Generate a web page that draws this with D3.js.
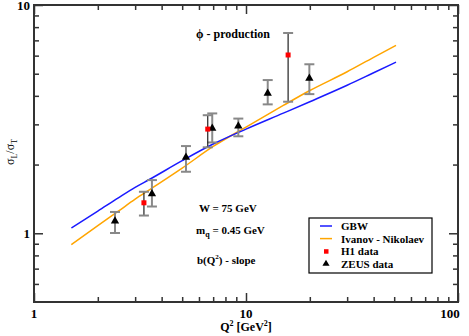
<!DOCTYPE html>
<meta charset="utf-8">
<head>
  <style>
    body { margin: 0; background: #fff; }
    svg text { font-family: "Liberation Serif", "DejaVu Serif", serif; font-weight: bold; fill: #000; }
    .axis path { display: none; }
    .axis line { stroke: #333; stroke-width: 1.5; }
  </style>
</head>
<body>
  <script src="https://d3js.org/d3.v7.min.js"></script>
  <script>
    // model curves
    var gbwQ2 = [1.5, 2, 2.5, 3, 3.5, 5, 7, 10, 15, 20, 30, 40, 51];
    var gbwR = [1.055, 1.25, 1.43, 1.59, 1.72, 2.08, 2.46, 2.86, 3.36, 3.77, 4.45, 5.05, 5.62];
    var inQ2 = [1.5, 2, 2.5, 3, 3.5, 5, 7, 10, 15, 20, 30, 40, 51];
    var inR = [0.892, 1.08, 1.25, 1.41, 1.55, 1.93, 2.40, 2.92, 3.63, 4.22, 5.1, 5.9, 6.65];

    // data points
    var h1Q2 = [3.3, 6.6, 15.8];
    var h1R = [1.36, 2.86, 6.04];
    var h1Lo = [1.196, 2.38, 3.77];
    var h1Hi = [1.52, 3.29, 7.54];

    var zeusQ2 = [2.41, 3.6, 5.21, 6.93, 9.2, 12.66, 19.9];
    var zeusR = [1.13, 1.49, 2.15, 2.88, 2.95, 4.10, 4.77];
    var zeusLo = [1.003, 1.31, 1.86, 2.50, 2.66, 3.67, 4.07];
    var zeusHi = [1.24, 1.71, 2.41, 3.35, 3.18, 4.69, 5.50];

    var xMajor = [1, 10, 100];
    var xMinor = [2, 3, 4, 5, 6, 7, 8, 9, 20, 30, 40, 50, 60, 70, 80, 90];
    var yMajor = [1, 10];
    var yMinor = [0.6, 0.7, 0.8, 0.9, 2, 3, 4, 5, 6, 7, 8, 9];

    var W = 469, H = 336;
    var pLeft = 34, pRight = 458, pTop = 5, pBottom = 302;

    var svg = d3.select("body").append("svg")
      .attr("width", W)
      .attr("height", H);

    var x = d3.scaleLog().domain([1, 100]).range([pLeft, pRight]);
    var y = d3.scaleLog().domain([0.5, 10]).range([pBottom, pTop]);

    // ticks, all pointing inward
    function ticks(axisFn, pos, vals, size) {
      svg.append("g")
        .attr("class", "axis")
        .attr("transform", pos)
        .call(axisFn.tickValues(vals).tickSize(size).tickFormat(""));
    }
    ticks(d3.axisBottom(x), "translate(0," + pBottom + ")", xMajor, -9);
    ticks(d3.axisBottom(x), "translate(0," + pBottom + ")", xMinor, -5);
    ticks(d3.axisTop(x), "translate(0," + pTop + ")", xMajor, -9);
    ticks(d3.axisTop(x), "translate(0," + pTop + ")", xMinor, -5);
    ticks(d3.axisLeft(y), "translate(" + pLeft + ",0)", yMajor, -9);
    ticks(d3.axisLeft(y), "translate(" + pLeft + ",0)", yMinor, -5);
    ticks(d3.axisRight(y), "translate(" + pRight + ",0)", yMajor, -9);
    ticks(d3.axisRight(y), "translate(" + pRight + ",0)", yMinor, -5);

    svg.append("rect")
      .attr("x", pLeft).attr("y", pTop)
      .attr("width", pRight - pLeft).attr("height", pBottom - pTop)
      .attr("fill", "none")
      .attr("stroke", "#333")
      .attr("stroke-width", 2);

    // tick labels
    svg.selectAll(".xlab")
      .data(xMajor)
      .enter().append("text")
      .attr("x", function (d) { return d == 100 ? x(d) - 8 : x(d); })
      .attr("y", 318)
      .attr("text-anchor", "middle")
      .style("font-size", "13px")
      .text(function (d) { return d; });

    svg.selectAll(".ylab")
      .data(yMajor)
      .enter().append("text")
      .attr("x", 30)
      .attr("y", function (d) { return y(d) + 4.5; })
      .attr("text-anchor", "end")
      .style("font-size", "13px")
      .text(function (d) { return d; });

    // axis titles
    var xt = svg.append("text")
      .attr("x", 246).attr("y", 331)
      .attr("text-anchor", "middle")
      .style("font-size", "12px");
    xt.append("tspan").text("Q");
    xt.append("tspan").attr("dy", -5).style("font-size", "8px").text("2");
    xt.append("tspan").attr("dy", 5).text(" [GeV");
    xt.append("tspan").attr("dy", -5).style("font-size", "8px").text("2");
    xt.append("tspan").attr("dy", 5).text("]");

    var yt = svg.append("text")
      .attr("transform", "translate(14,152) rotate(-90)")
      .attr("text-anchor", "middle")
      .style("font-size", "12px")
      .style("font-weight", "normal");
    yt.append("tspan").text("σ");
    yt.append("tspan").attr("dy", 3).style("font-size", "8px").text("L");
    yt.append("tspan").attr("dy", -3).text("/σ");
    yt.append("tspan").attr("dy", 3).style("font-size", "8px").text("T");

    // curves
    var line = d3.line()
      .x(function (d) { return x(d[0]); })
      .y(function (d) { return y(d[1]); })
      .curve(d3.curveMonotoneX);

    svg.append("path")
      .datum(inQ2.map(function (d, i) { return [d, inR[i]]; }))
      .attr("d", line)
      .attr("fill", "none")
      .attr("stroke", "#ffa500")
      .attr("stroke-width", 1.5);

    svg.append("path")
      .datum(gbwQ2.map(function (d, i) { return [d, gbwR[i]]; }))
      .attr("d", line)
      .attr("fill", "none")
      .attr("stroke", "#1a1aff")
      .attr("stroke-width", 1.5);

    // error bars
    function errbars(q, lo, hi, col, w) {
      var g = svg.append("g");
      q.forEach(function (d, i) {
        g.append("line")
          .attr("x1", x(d)).attr("x2", x(d))
          .attr("y1", y(lo[i])).attr("y2", y(hi[i]))
          .attr("stroke", col).attr("stroke-width", w);
        [lo[i], hi[i]].forEach(function (v) {
          g.append("line")
            .attr("x1", x(d) - 5).attr("x2", x(d) + 5)
            .attr("y1", y(v)).attr("y2", y(v))
            .attr("stroke", "#888").attr("stroke-width", 2);
        });
      });
    }
    errbars(zeusQ2, zeusLo, zeusHi, "#8a8a8a", 2);
    errbars(h1Q2, h1Lo, h1Hi, "#222", 1.2);

    // markers
    var tri = d3.symbol().type(d3.symbolTriangle).size(30);
    svg.selectAll(".zeus")
      .data(zeusQ2)
      .enter().append("path")
      .attr("d", tri)
      .attr("transform", function (d, i) { return "translate(" + x(d) + "," + y(zeusR[i]) + ")"; })
      .attr("fill", "#000");

    svg.selectAll(".h1")
      .data(h1Q2)
      .enter().append("rect")
      .attr("x", function (d) { return x(d) - 2.5; })
      .attr("y", function (d, i) { return y(h1R[i]) - 2.5; })
      .attr("width", 5).attr("height", 5)
      .attr("fill", "#ff0000");

    // annotations
    svg.append("text")
      .attr("x", 196).attr("y", 38)
      .style("font-size", "12px")
      .text("ϕ - production");

    svg.append("text")
      .attr("x", 199).attr("y", 212)
      .style("font-size", "11px")
      .text("W = 75 GeV");

    var mq = svg.append("text")
      .attr("x", 196).attr("y", 234)
      .style("font-size", "11px");
    mq.append("tspan").text("m");
    mq.append("tspan").attr("dy", 3).style("font-size", "8px").text("q");
    mq.append("tspan").attr("dy", -3).text(" = 0.45 GeV");

    var bq = svg.append("text")
      .attr("x", 197).attr("y", 264)
      .style("font-size", "11px");
    bq.append("tspan").text("b(Q");
    bq.append("tspan").attr("dy", -5).style("font-size", "7px").text("2");
    bq.append("tspan").attr("dy", 5).text(") - slope");

    // legend
    var legend = svg.append("g");
    legend.append("rect")
      .attr("x", 309).attr("y", 218)
      .attr("width", 123).attr("height", 55)
      .attr("fill", "#fff")
      .attr("stroke", "#000")
      .attr("stroke-width", 1.2);

    var legNames = ["GBW", "Ivanov - Nikolaev", "H1 data", "ZEUS data"];
    var items = legend.selectAll("g")
      .data(legNames)
      .enter().append("g")
      .attr("transform", function (d, i) { return "translate(0," + (226 + i * 12.6) + ")"; });

    items.append("text")
      .attr("x", 341).attr("y", 4)
      .style("font-size", "11px")
      .text(function (d) { return d; });

    items.filter(function (d, i) { return i < 2; })
      .append("line")
      .attr("x1", 320).attr("x2", 332)
      .attr("stroke", function (d, i) { return i == 0 ? "#1a1aff" : "#ffa500"; })
      .attr("stroke-width", 1.5);

    items.filter(function (d, i) { return i == 2; })
      .append("rect")
      .attr("x", 324).attr("y", -2).attr("width", 4.5).attr("height", 4.5)
      .attr("fill", "#ff0000");

    items.filter(function (d, i) { return i == 3; })
      .append("path")
      .attr("d", d3.symbol().type(d3.symbolTriangle).size(22))
      .attr("transform", "translate(326,0)")
      .attr("fill", "#000");
  </script>
</body>
